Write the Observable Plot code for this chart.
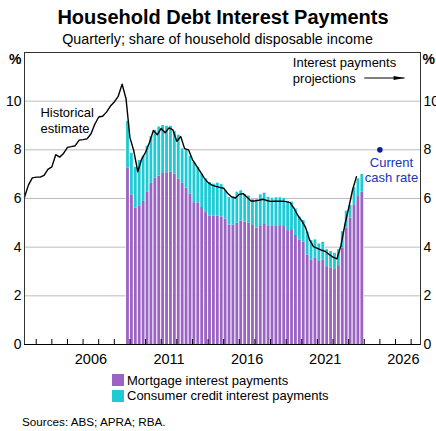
<!DOCTYPE html>
<html><head><meta charset="utf-8">
<script src="https://cdn.jsdelivr.net/npm/d3@7"></script>
<script src="https://cdn.jsdelivr.net/npm/@observablehq/plot@0.6"></script>
<style>
body{margin:0;background:#fff;font-family:"Liberation Sans",Arial,Helvetica,sans-serif;color:#000;}
#wrap{position:relative;width:436px;height:431px;overflow:hidden;}
.abs{position:absolute;white-space:nowrap;line-height:normal;}
.sw{position:absolute;width:12px;height:12px;}
#chart{position:absolute;left:0;top:48px;}
</style></head><body><div id="wrap">
<div class="abs" style="left:0;width:446px;top:6px;text-align:center;font-weight:bold;font-size:20px;">Household Debt Interest Payments</div>
<div class="abs" style="left:0;width:435px;top:30.6px;text-align:center;font-size:14.3px;">Quarterly; share of household disposable income</div>
<div id="chart"></div>
<div class="sw" style="left:112px;top:374px;background:#9a63c4"></div>
<div class="abs" style="left:127px;top:373.2px;font-size:13px;">Mortgage interest payments</div>
<div class="sw" style="left:112px;top:390px;background:#1ecbd5"></div>
<div class="abs" style="left:127px;top:388.2px;font-size:13px;">Consumer credit interest payments</div>
<div class="abs" style="left:22px;top:415.4px;font-size:11.7px;">Sources: ABS; APRA; RBA.</div>
</div>
<script>
// ---- data ----
const lineStart = 2002.25;           // first quarter of the historical line
const lineValues = [6.05,6.55,6.85,6.88,6.88,6.95,7.2,7.3,7.8,7.7,
  7.85,8.1,8.13,8.17,8.4,8.42,8.45,8.65,9.05,9.35,
  9.38,9.55,9.8,9.97,10.2,10.7,10.1,8.5,7.95,7.1,
  7.62,7.9,8.3,8.8,8.62,8.88,8.7,8.9,8.82,8.35,
  8.55,8.05,8.0,7.6,7.35,7.1,6.85,6.65,6.55,6.5,
  6.46,6.42,6.22,6.07,6.02,6.17,6.2,6.05,5.9,5.9,
  5.93,5.97,5.92,5.88,5.89,5.89,5.89,5.87,5.83,5.6,
  5.3,5.08,4.8,4.3,4.02,3.95,3.88,3.83,3.7,3.59,
  3.52,4.05,4.9,5.6,6.35,6.9];
const barStart = 2008.75;            // first quarter of the bars
const mortgage = [7.24,6.15,5.61,5.70,5.88,6.25,6.62,6.83,6.92,7.06,
  7.06,7.09,7.00,6.80,6.62,6.43,6.19,5.83,5.82,5.63,
  5.42,5.28,5.27,5.28,5.24,5.16,4.91,4.91,4.98,5.08,
  5.03,4.98,4.89,4.78,4.85,4.93,4.85,4.85,4.85,4.85,
  4.85,4.68,4.72,4.48,4.30,4.20,3.68,3.48,3.54,3.41,
  3.48,3.20,3.13,3.08,3.24,3.95,4.79,5.20,5.71,6.08,6.26];
const consumer = [1.93,1.71,1.67,1.86,1.86,1.90,1.93,1.97,2.02,1.94,
  1.91,1.88,1.76,1.80,1.42,1.57,1.55,1.66,1.46,1.37,
  1.38,1.38,1.32,1.35,1.33,1.16,1.13,1.16,1.28,1.24,
  1.13,1.12,1.06,1.17,1.30,1.29,1.20,1.16,1.18,1.18,
  1.16,1.20,1.13,1.09,0.93,0.89,0.93,0.79,0.76,0.72,
  0.72,0.70,0.69,0.67,0.66,0.69,0.69,0.51,0.73,0.73,0.73];
const cashRate = [{year: 2025.0, value: 8.0}];
const yTicks = [0, 2, 4, 6, 8, 10];
const gridTicks = [2, 4, 6, 8, 10];
const yearTicks = d3.range(2003, 2028);
const yearLabels = [2006, 2011, 2016, 2021, 2026];
const notes = [
  {x: 2003.27, y: 9.23, text: "Historical\nestimate", anchor: "start", color: "#000"},
  {x: 2019.43, y: 11.27, text: "Interest payments\nprojections", anchor: "start", color: "#000"},
  {x: 2025.74, y: 7.18, text: "Current\ncash rate", anchor: "middle", color: "#2233b8"}
];
const arrow = [{x1: 2024.0, x2: 2026.58, y: 10.95}];

// ---- build ----
const lineData = lineValues.map((v, i) => ({year: lineStart + 0.25 * i, value: v}));
const bars = mortgage.map((m, i) => ({q: barStart + 0.25 * i, m, c: consumer[i], t: m + consumer[i]}));
const purple = "#9a63c4", cyan = "#1ecbd5";
const arrowHead = {draw(ctx, size) { const r = Math.sqrt(size / Math.PI);
  ctx.moveTo(r, 0); ctx.lineTo(-r, -r * 0.36); ctx.lineTo(-r, r * 0.36); ctx.closePath(); }};

const chart = Plot.plot({
  width: 436, height: 320,
  marginTop: 4, marginBottom: 24, marginLeft: 24, marginRight: 16,
  style: {fontFamily: "Liberation Sans, Arial, sans-serif", fontSize: "14px", color: "#000", background: "white", overflow: "visible"},
  x: {type: "linear", domain: [2002.25, 2027.6]},
  y: {type: "linear", domain: [0, 12]},
  marks: [
    Plot.gridY({ticks: gridTicks, stroke: "#bcbcbc", strokeOpacity: 1, strokeWidth: 1}),
    Plot.rectY(bars, {x1: "q", x2: d => d.q + 0.25, y1: 0, y2: "t", fill: "white"}),
    Plot.rectY(bars, {x1: "q", x2: d => d.q + 0.25, y1: 0, y2: "m", fill: purple, insetLeft: 0.55, insetRight: 0.55}),
    Plot.rectY(bars, {x1: "q", x2: d => d.q + 0.25, y1: "m", y2: "t", fill: cyan, insetLeft: 0.55, insetRight: 0.55}),
    Plot.line(lineData, {x: "year", y: "value", stroke: "black", strokeWidth: 1.4}),
    Plot.frame({stroke: "#333", strokeWidth: 1}),
    Plot.ruleY([0], {stroke: "black", strokeWidth: 1.2}),
    Plot.axisY({anchor: "left", ticks: yTicks, tickSize: 0, tickPadding: 3, fontSize: 14, label: null}),
    Plot.axisY({anchor: "right", ticks: yTicks, tickSize: 0, tickPadding: 3, fontSize: 14, label: null}),
    Plot.text(["%"], {frameAnchor: "top-left", dx: -3, dy: 7.5, textAnchor: "end", lineAnchor: "middle", fontWeight: "bold", fontSize: 14}),
    Plot.text(["%"], {frameAnchor: "top-right", dx: 2, dy: 7.5, textAnchor: "start", lineAnchor: "middle", fontWeight: "bold", fontSize: 14}),
    Plot.axisX({anchor: "bottom", ticks: yearTicks, tickSize: 5, dy: -5, tickFormat: () => "", label: null, stroke: "black"}),
    Plot.axisX({anchor: "bottom", ticks: yearLabels.map(d => d + 0.5), tickSize: 0, tickPadding: 9, tickFormat: d => String(Math.floor(d)), fontSize: 14.5, label: null}),
    Plot.text(notes, {x: "x", y: "y", text: "text", textAnchor: "start", lineAnchor: "middle", lineHeight: 1.22, fontSize: 13, fill: "color", filter: d => d.anchor === "start"}),
    Plot.text(notes, {x: "x", y: "y", text: "text", textAnchor: "middle", lineAnchor: "middle", lineHeight: 1.17, fontSize: 13, fill: "color", filter: d => d.anchor === "middle"}),
    Plot.link(arrow, {x1: "x1", x2: "x2", y1: "y", y2: "y", stroke: "black", strokeWidth: 1.1}),
    Plot.dot(arrow, {x: "x2", y: "y", symbol: arrowHead, r: 5.5, dx: -5.5, fill: "black", stroke: null}),
    Plot.dot(cashRate, {x: "year", y: "value", r: 2.8, fill: "#0c1d9c", stroke: null})
  ]
});
document.getElementById("chart").appendChild(chart);
</script>
</body></html>
